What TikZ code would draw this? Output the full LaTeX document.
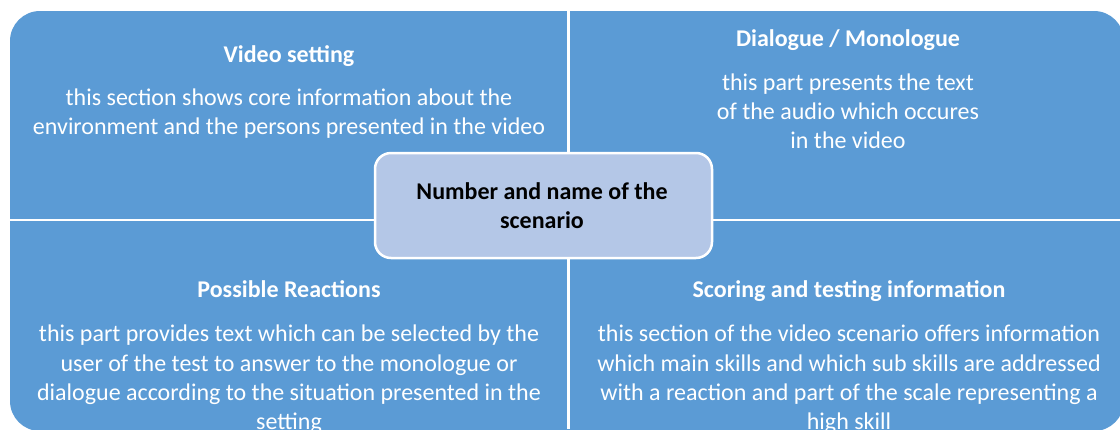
\documentclass[tikz,border=0pt]{standalone}
\usepackage{fontspec}
\setmainfont{Carlito}
\definecolor{quadblue}{HTML}{5B9BD5}
\definecolor{centerblue}{HTML}{B4C7E7}
\newcommand{\txtblock}[1]{\begin{tabular}[t]{@{}c@{}}#1\end{tabular}}
\tikzset{
  quadtitle/.style={anchor=base, inner sep=0pt, text=white, font=\fontsize{24}{29.4}\selectfont\bfseries},
  quadbody/.style={anchor=base, inner sep=0pt, text=white, font=\fontsize{24}{29.4}\selectfont},
  centertext/.style={anchor=base, inner sep=0pt, text=black, font=\fontsize{24}{29}\selectfont\bfseries},
  centerbox/.style={draw=white, line width=2.5pt, fill=centerblue, rounded corners=16pt, inner sep=0pt},
  separator/.style={white, line width=3pt}
}
\begin{document}
\begin{tikzpicture}[x=1pt, y=-1pt]
\useasboundingbox (0,0) rectangle (1120,429);
\begin{scope}
  \clip (0,0) rectangle (1120,429);
  \fill[quadblue, rounded corners=30pt] (10,11) rectangle (1124,431);
  \coordinate (vtop) at (568.5,0);
  \coordinate (vbot) at (568.5,429);
  \coordinate (hleft) at (0,220);
  \coordinate (hright) at (1120,220);
  \draw[separator] (vtop) -- (vbot);
  \draw[separator, line width=2.5pt] (hleft) -- (hright);
\end{scope}

\node[centerbox, minimum width=337pt, minimum height=105pt] (scenariobox) at (543.5,205.5) {};
\node[centertext] (scenario) at (542,199.3) {\txtblock{Number and name of the\\scenario}};

\node[quadtitle] (tlt) at (289,62.5) {Video setting};
\node[quadbody] (tlb) at (289,105) {\txtblock{this section shows core information about the\\environment and the persons presented in the video}};

\node[quadtitle] (trt) at (848,46.7) {Dialogue / Monologue};
\node[quadbody] (trb) at (848,90) {\txtblock{this part presents the text\\of the audio which occures\\in the video}};

\node[quadtitle] (blt) at (289,297.5) {Possible Reactions};
\node[quadbody] (blb) at (289,341.6) {\txtblock{this part provides text which can be selected by the\\user of the test to answer to the monologue or\\dialogue according to the situation presented in the\\setting}};

\node[quadtitle] (brt) at (849,297.5) {Scoring and testing information};
\node[quadbody] (brb) at (849,341.6) {\txtblock{this section of the video scenario offers information\\which main skills and which sub skills are addressed\\with a reaction and part of the scale representing a\\high skill}};
\end{tikzpicture}
\end{document}
